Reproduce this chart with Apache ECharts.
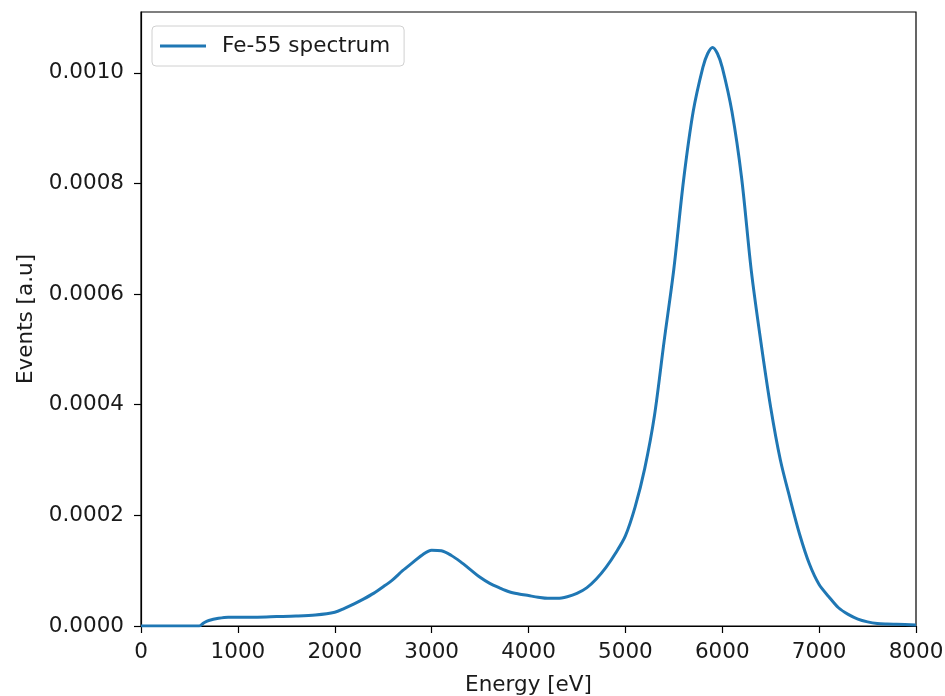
<!DOCTYPE html>
<html>
<head>
<meta charset="utf-8">
<script src="https://cdn.jsdelivr.net/npm/echarts@6/dist/echarts.min.js"></script>
<style>
  html, body { margin: 0; padding: 0; background: #fff; }
  #chart { width: 945px; height: 696px; }
</style>
</head>
<body>
<div id="chart"></div>
<script>
// energy in eV, events in arbitrary units
const energy = [0, 500, 600, 650, 700, 800, 900, 1000, 1200, 1400, 1600, 1800, 2000, 2100, 2200, 2300, 2400,
  2500, 2600, 2700, 2800, 2900, 3000, 3100, 3200, 3300, 3400, 3500, 3600, 3700, 3800, 3900, 4000,
  4100, 4200, 4300, 4400, 4500, 4600, 4700, 4800, 4900, 5000, 5100, 5200, 5300, 5400, 5500, 5600,
  5700, 5800, 5850, 5900, 5950, 6000, 6100, 6200, 6300, 6400, 6500, 6600, 6700, 6800, 6900, 7000,
  7100, 7200, 7300, 7400, 7500, 7600, 7700, 7800, 8000]
const events = [0, 0, 0, 6e-6, 1.0e-5, 1.4e-5, 1.6e-5, 1.6e-5, 1.6e-5, 1.7e-5, 1.8e-5, 2.0e-5, 2.5e-5, 3.2e-5, 4.0e-5, 4.9e-5, 5.9e-5,
  7.1e-5, 8.4e-5, 1.0e-4, 1.14e-4, 1.28e-4, 1.37e-4, 1.36e-4, 1.28e-4, 1.16e-4, 1.02e-4, 8.8e-5, 7.7e-5, 6.9e-5, 6.2e-5, 5.8e-5, 5.5e-5,
  5.2e-5, 5.0e-5, 5.0e-5, 5.3e-5, 5.9e-5, 6.9e-5, 8.5e-5, 1.06e-4, 1.32e-4, 1.63e-4, 2.15e-4, 2.85e-4, 3.8e-4, 5.15e-4, 6.45e-4, 8.05e-4,
  9.3e-4, 1.01e-3, 1.035e-3, 1.046e-3, 1.035e-3, 1.01e-3, 9.3e-4, 8.1e-4, 6.42e-4, 5.12e-4, 3.95e-4, 3.0e-4, 2.3e-4, 1.65e-4, 1.12e-4, 7.5e-5,
  5.3e-5, 3.3e-5, 2.1e-5, 1.25e-5, 7.5e-6, 4.5e-6, 3.5e-6, 3e-6, 2e-6]
const seriesName = 'Fe-55 spectrum'

const font = 'DejaVu Sans'
const fontSize = 21.5
const textColor = '#1a1a1a'

const chart = echarts.init(document.getElementById('chart'))

chart.setOption({
  animation: false,
  grid: {
    left: 141, right: 29, top: 12, bottom: 70,
    outerBoundsMode: 'none',
    containLabel: false,
    show: true, borderColor: '#000', borderWidth: 1.2
  },
  legend: {
    left: 152, top: 26,
    padding: [9, 14, 9, 8],
    itemWidth: 46, itemHeight: 3, itemGap: 0,
    icon: 'rect',
    borderColor: '#d0d0d0', borderWidth: 1, borderRadius: 4,
    textStyle: { fontFamily: font, fontSize: fontSize, color: textColor, padding: [0, 0, 0, 11] },
    data: [seriesName]
  },
  xAxis: {
    type: 'value', min: 0, max: 8000, interval: 1000,
    name: 'Energy [eV]', nameLocation: 'middle', nameGap: 48,
    nameTextStyle: { fontFamily: font, fontSize: fontSize, color: textColor },
    axisLine: { show: true, lineStyle: { color: '#000', width: 1.2 } },
    axisTick: { show: true, length: 7, lineStyle: { color: '#000', width: 1.2 } },
    axisLabel: { fontFamily: font, fontSize: fontSize, color: textColor, margin: 15, formatter: v => String(v) },
    splitLine: { show: false }
  },
  yAxis: {
    type: 'value', min: 0, max: 0.00111, interval: 0.0002,
    name: 'Events [a.u]', nameLocation: 'middle', nameGap: 100, nameRotate: 90,
    nameTextStyle: { fontFamily: font, fontSize: fontSize, color: textColor },
    axisLine: { show: true, lineStyle: { color: '#000', width: 1.2 } },
    axisTick: { show: true, length: 7, lineStyle: { color: '#000', width: 1.2 } },
    axisLabel: {
      fontFamily: font, fontSize: fontSize, color: textColor, margin: 17,
      showMaxLabel: false,
      formatter: v => v.toFixed(4)
    },
    splitLine: { show: false }
  },
  series: [{
    name: seriesName,
    type: 'line',
    data: energy.map((e, i) => [e, events[i]]),
    showSymbol: false,
    smooth: 0.3,
    color: '#1f77b4',
    lineStyle: { color: '#1f77b4', width: 3 }
  }]
})
</script>
</body>
</html>
